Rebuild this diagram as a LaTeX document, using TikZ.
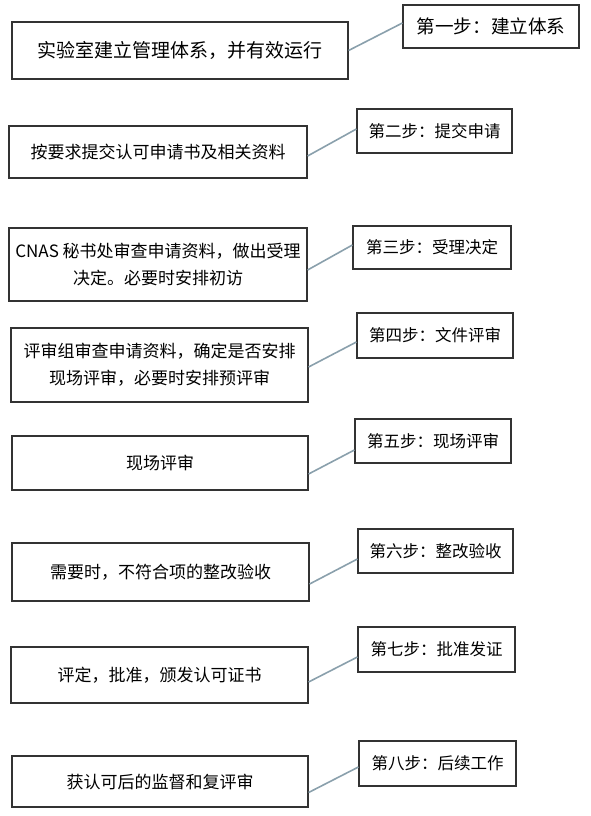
\documentclass[tikz,border=0pt]{standalone}
\usepackage{fontspec}
\setmainfont{Noto Sans CJK SC}
\usepackage{tikz}
\definecolor{jointgray}{RGB}{138,160,172}

\begin{document}
\begin{tikzpicture}
  [x=1pt,y=-1pt,
  leftbox/.style={draw=black!80,line width=1.2pt,inner sep=0pt,align=center,
    font=\fontsize{17}{27}\selectfont},
  stepbox/.style={leftbox,font=\fontsize{16.5}{20}\selectfont},
  joint/.style={draw=jointgray,line width=1.6pt}]
  \useasboundingbox (0,0) rectangle (591,816);
  % các ô bên trái
  \node[leftbox,minimum width=336pt,minimum height=57pt,
    font=\fontsize{19}{24}\selectfont] (l1) at (180,50.5)
  {实验室建立管理体系，并有效运行};
  \node[leftbox,minimum width=298pt,minimum height=52pt] (l2) at (158,152)
  {按要求提交认可申请书及相关资料};
  \node[leftbox,minimum width=298pt,minimum height=73pt] (l3) at (158,264.5)
  {CNAS 秘书处审查申请资料，做出受理\\决定。必要时安排初访};
  \node[leftbox,minimum width=297pt,minimum height=74pt] (l4) at (159.5,365)
  {评审组审查申请资料，确定是否安排\\现场评审，必要时安排预评审};
  \node[leftbox,minimum width=296pt,minimum height=54pt] (l5) at (160,463)
  {现场评审};
  \node[leftbox,minimum width=297pt,minimum height=58pt] (l6) at (160.5,572)
  {需要时，不符合项的整改验收};
  \node[leftbox,minimum width=297pt,minimum height=56pt] (l7) at (159.5,675)
  {评定，批准，颁发认可证书};
  \node[leftbox,minimum width=296pt,minimum height=51pt] (l8) at (160,781.5)
  {获认可后的监督和复评审};
  % các ô bước
  \node[stepbox,minimum width=176pt,minimum height=43pt,
    font=\fontsize{18.6}{22}\selectfont] (r1) at (491,26.5) {第一步：建立体系};
  \node[stepbox,minimum width=155pt,minimum height=44pt] (r2) at (434.5,131)
  {第二步：提交申请};
  \node[stepbox,minimum width=158pt,minimum height=43pt] (r3) at (432,247.5)
  {第三步：受理决定};
  \node[stepbox,minimum width=156pt,minimum height=45pt] (r4) at (435,335.5)
  {第四步：文件评审};
  \node[stepbox,minimum width=156pt,minimum height=44pt] (r5) at (433,441)
  {第五步：现场评审};
  \node[stepbox,minimum width=155pt,minimum height=44pt] (r6) at (435.5,551)
  {第六步：整改验收};
  \node[stepbox,minimum width=157pt,minimum height=45pt] (r7) at (436.5,649.5)
  {第七步：批准发证};
  \node[stepbox,minimum width=157pt,minimum height=45pt] (r8) at (437.5,763.5)
  {第八步：后续工作};
  % đường nối
  \foreach \i/\a/\b in {1/0/3.5,2/-4/2,3/-5.5/2.5,4/-2/-6.5,
    5/-11/-9,6/-12/-8,7/-7/-7.5,8/-11/-3.5}
  \draw[joint] ([yshift=\a pt]l\i.east) -- ([yshift=\b pt]r\i.west);
\end{tikzpicture}
\end{document}
